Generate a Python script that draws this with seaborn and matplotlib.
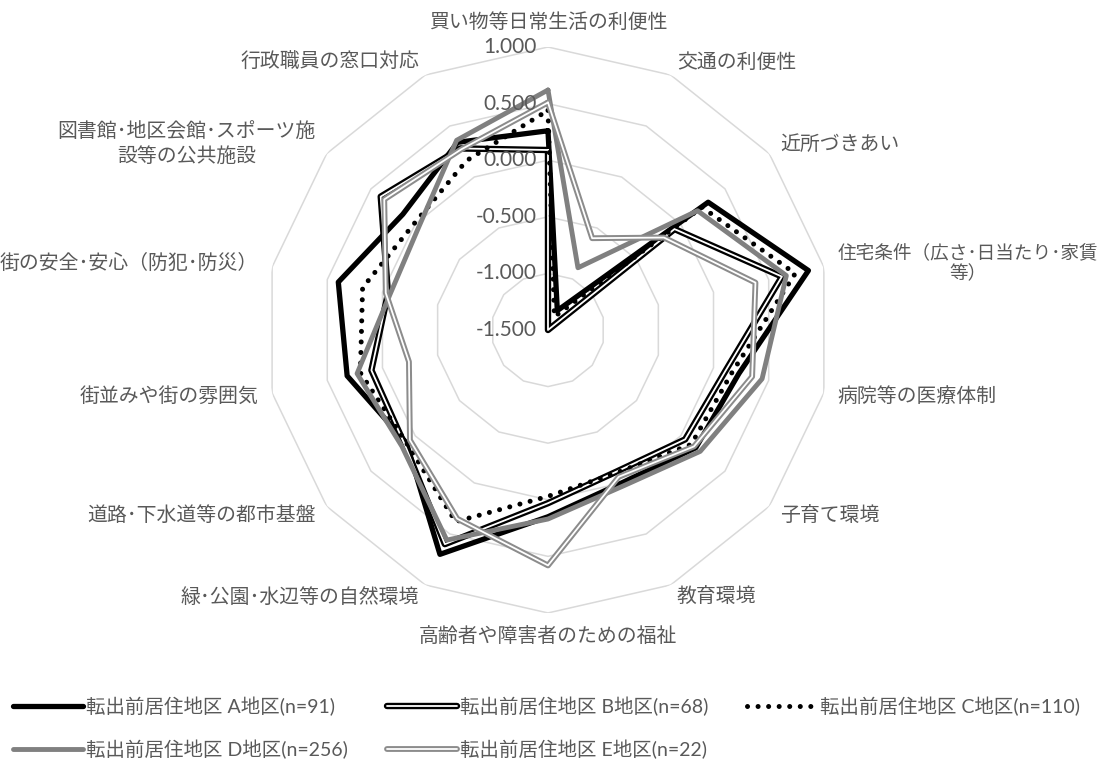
# -*- coding: utf-8 -*-
"""
転出前居住地区別 満足度レーダーチャート
"""

import numpy as np
import pandas as pd
import matplotlib
matplotlib.use("Agg")
import matplotlib.pyplot as plt
import matplotlib.patheffects as pe
from matplotlib.font_manager import FontProperties
import seaborn as sns

sns.set_style("white")
plt.rcParams['font.family'] = ['Noto Sans CJK JP', 'DejaVu Sans']

# 項目（時計回り、上から）
categories = [
    "買い物等日常生活の利便性", "交通の利便性", "近所づきあい",
    "住宅条件（広さ･日当たり･家賃\n等）", "病院等の医療体制", "子育て環境",
    "教育環境", "高齢者や障害者のための福祉", "緑･公園･水辺等の自然環境",
    "道路･下水道等の都市基盤", "街並みや街の雰囲気", "街の安全･安心（防犯･防災）",
    "図書館･地区会館･スポーツ施\n設等の公共施設", "行政職員の窓口対応",
]

series_names = [
    "転出前居住地区 A地区(n=91)", "転出前居住地区 B地区(n=68)",
    "転出前居住地区 C地区(n=110)", "転出前居住地区 D地区(n=256)",
    "転出前居住地区 E地区(n=22)",
]

values_a = [0.26, -1.31, 0.31, 0.86, 0.23, 0.17, 0.00, 0.15, 0.70, 0.10, 0.32, 0.40, 0.14, 0.34]
values_b = [0.09, -1.50, -0.07, 0.62, 0.11, 0.05, -0.11, 0.03, 0.60, 0.12, 0.10, -0.05, 0.39, 0.28]
values_c = [0.44, -1.37, 0.24, 0.74, 0.17, 0.12, -0.10, -0.03, 0.38, 0.10, 0.20, 0.18, 0.01, 0.16]
values_d = [0.62, -0.89, 0.19, 0.66, 0.44, 0.22, 0.03, 0.17, 0.56, 0.15, 0.23, -0.07, -0.04, 0.36]
values_e = [0.51, -0.60, -0.19, 0.38, 0.35, 0.15, -0.06, 0.58, 0.35, 0.06, -0.24, -0.03, 0.35, 0.27]

ring_values = [-1.0, -0.5, 0.0, 0.5, 1.0]
tick_values = [1.0, 0.5, 0.0, -0.5, -1.0, -1.5]
R_MIN, R_MAX = -1.5, 1.0

TEXT_COLOR = "#595959"
GRID_COLOR = "#d9d9d9"

n = len(categories)
theta = np.linspace(0, 2 * np.pi, n, endpoint=False)
theta_closed = np.append(theta, 2 * np.pi)

fig = plt.figure(figsize=(11.13, 7.65), dpi=100)
ax = fig.add_axes([0.2381, 0.1987, 0.5085, 0.7399], projection="polar")
ax.set_theta_zero_location("N")
ax.set_theta_direction(-1)
ax.set_ylim(R_MIN, R_MAX)
ax.grid(False)
ax.spines["polar"].set_visible(False)
ax.set_xticks([])
ax.set_yticks([])

# 目盛り多角形
for rv in ring_values:
    ax.plot(theta_closed, [rv] * (n + 1), color=GRID_COLOR, lw=1.1, zorder=1)

# 系列スタイル
styles = [
    dict(color="black", linewidth=3.8),
    dict(color="white", linewidth=1.3,
         path_effects=[pe.Stroke(linewidth=4.6, foreground="black"), pe.Normal()]),
    dict(color="black", linewidth=3.6, linestyle=(0, (0.01, 2.1)),
         dash_capstyle="round"),
    dict(color="#808080", linewidth=3.5),
    dict(color="white", linewidth=1.3,
         path_effects=[pe.Stroke(linewidth=4.2, foreground="#8c8c8c"), pe.Normal()]),
]

all_values = [values_a, values_b, values_c, values_d, values_e]
handles = []
for name, vals, st in zip(series_names, all_values, styles):
    df = pd.DataFrame({"theta": theta_closed, "value": vals + [vals[0]]})
    sns.lineplot(data=df, x="theta", y="value", ax=ax, sort=False,
                 estimator=None, errorbar=None, label=name, zorder=3, **st)
    handles.append(ax.lines[-1])

if ax.get_legend() is not None:
    ax.get_legend().remove()
ax.set_xlabel("")
ax.set_ylabel("")
ax.set_ylim(R_MIN, R_MAX)

# 数値目盛りラベル
for tv in tick_values:
    ax.annotate(f"{tv:.3f}", xy=(0, tv), xytext=(-8, 0), textcoords="offset points",
                ha="right", va="center", fontsize=15, color=TEXT_COLOR,
                family=["Lato", "DejaVu Sans"], zorder=4)

# 項目ラベル
r_lab = 1.125
for t, lab in zip(theta, categories):
    s = np.sin(t)
    c = np.cos(t)
    if abs(s) < 0.01:
        ha = "center"
        va = "bottom" if c > 0 else "top"
    else:
        ha = "left" if s > 0 else "right"
        va = "center"
    # 長いラベルは右端で切れないよう少し小さく
    fs = 13.4 if lab.startswith("住宅条件") else 14.3
    ax.text(t, r_lab, lab, ha=ha, va=va, multialignment="center",
            fontsize=fs, color=TEXT_COLOR, linespacing=1.2, clip_on=False)

# 凡例（行方向に並べるため列順に並べ替え）
order = [0, 3, 1, 4, 2]
leg_font = FontProperties(family=["Lato", "Noto Sans CJK JP"], size=14)
fig.legend([handles[i] for i in order], [series_names[i] for i in order],
           ncol=3, loc="lower left",
           bbox_to_anchor=(0.012, 0.008), frameon=False, prop=leg_font,
           handlelength=3.6, handletextpad=0.15, columnspacing=2.0,
           labelspacing=1.2, borderpad=0, borderaxespad=0,
           labelcolor=TEXT_COLOR)

fig.savefig("out.png", dpi=100)
plt.close(fig)
